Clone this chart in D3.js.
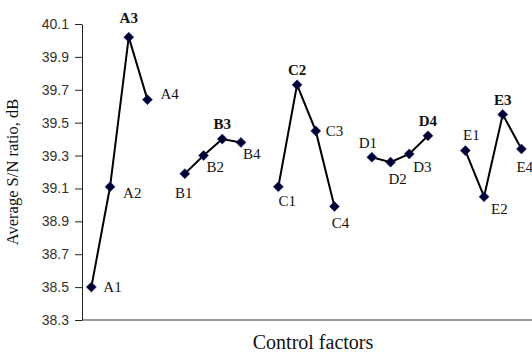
<!DOCTYPE html>
<html>
<head>
<meta charset="utf-8">
<script src="https://cdn.jsdelivr.net/npm/d3@7"></script>
<style>
  body { margin: 0; background: #fff; }
  svg { display: block; }
</style>
</head>
<body>
<svg width="532" height="354"></svg>
<script>
// data
const factors = ["A", "B", "C", "D", "E"];
const levels = ["1", "2", "3", "4"];
const snA = [38.50, 39.11, 40.02, 39.64];
const snB = [39.19, 39.30, 39.40, 39.38];
const snC = [39.11, 39.73, 39.45, 38.99];
const snD = [39.29, 39.26, 39.31, 39.42];
const snE = [39.33, 39.05, 39.55, 39.34];
const yTicks = [38.3, 38.5, 38.7, 38.9, 39.1, 39.3, 39.5, 39.7, 39.9, 40.1];

// where each point label sits: [dx, dy, anchor]
const labelPos = [
    [[12, 0, "start"], [13, 6, "start"], [0, -19, "middle"], [13, -6, "start"]],
    [[-1, 19, "middle"], [3, 11, "start"], [0, -15, "middle"], [2, 11, "start"]],
    [[9, 14, "middle"], [0, -15, "middle"], [10, 0, "start"], [6, 16, "middle"]],
    [[-4, -14, "middle"], [7, 17, "middle"], [4, 13, "start"], [0, -15, "middle"]],
    [[6, -16, "middle"], [7, 12, "start"], [0, -15, "middle"], [-5, 18, "start"]]
];

const series = [snA, snB, snC, snD, snE];

// categories along x, a blank slot after every factor
const slots = [];
factors.forEach(function (f) {
    levels.forEach(function (l) { slots.push(f + l); });
    slots.push(f + "_gap");
});

const svg = d3.select("svg");
const mLeft = 82, mTop = 24, mBottom = 320;

const x = d3.scaleBand()
    .domain(slots)
    .range([mLeft, mLeft + slots.length * 18.7]);
const y = d3.scaleLinear()
    .domain([38.3, 40.1])
    .range([mBottom, mTop]);

// y axis
const yAxis = svg.append("g")
    .attr("transform", "translate(" + mLeft + ",0)")
    .call(d3.axisLeft(y).tickValues(yTicks).tickFormat(d3.format(".1f")).tickSize(7).tickSizeOuter(0));
yAxis.select(".domain").attr("stroke", "#222");
yAxis.selectAll(".tick line").attr("stroke", "#222");
yAxis.selectAll(".tick text")
    .attr("x", -13)
    .attr("fill", "#333")
    .attr("font-family", "Liberation Sans, Arial, sans-serif")
    .attr("font-size", 14);

// x axis (line only)
svg.append("line")
    .attr("x1", mLeft).attr("x2", 532)
    .attr("y1", mBottom).attr("y2", mBottom)
    .attr("stroke", "#333")
    .attr("stroke-width", 1.2);

const line = d3.line()
    .x(function (d) { return x(d.key) + x.bandwidth() / 2; })
    .y(function (d) { return y(d.v); });

series.forEach(function (vals, i) {
    const pts = vals.map(function (v, j) {
        return {key: factors[i] + levels[j], v: v, j: j};
    });
    const best = d3.maxIndex(vals);
    const g = svg.append("g");

    g.append("path")
        .datum(pts)
        .attr("fill", "none")
        .attr("stroke", "#000")
        .attr("stroke-width", 2)
        .attr("d", line);

    g.selectAll("path.mark")
        .data(pts)
        .enter().append("path")
        .attr("class", "mark")
        .attr("d", d3.symbol(d3.symbolDiamond2, 64))
        .attr("transform", function (d) { return "translate(" + line.x()(d) + "," + line.y()(d) + ")"; })
        .attr("fill", "#000030")
        .attr("stroke", "#2a2a80")
        .attr("stroke-width", 0.6);

    g.selectAll("text")
        .data(pts)
        .enter().append("text")
        .attr("x", function (d) { return line.x()(d) + labelPos[i][d.j][0]; })
        .attr("y", function (d) { return line.y()(d) + labelPos[i][d.j][1]; })
        .attr("dy", "0.35em")
        .attr("text-anchor", function (d) { return labelPos[i][d.j][2]; })
        .attr("font-family", "Liberation Serif, Times New Roman, serif")
        .attr("font-size", 15)
        .attr("font-weight", function (d) { return d.j === best ? "bold" : "normal"; })
        .attr("fill", "#111")
        .text(function (d) { return d.key; });
});

// axis titles
svg.append("text")
    .attr("transform", "translate(18,172) rotate(-90)")
    .attr("text-anchor", "middle")
    .attr("font-family", "Liberation Serif, Times New Roman, serif")
    .attr("font-size", 16.5)
    .attr("fill", "#111")
    .text("Average S/N ratio, dB");

svg.append("text")
    .attr("x", 313)
    .attr("y", 349)
    .attr("text-anchor", "middle")
    .attr("font-family", "Liberation Serif, Times New Roman, serif")
    .attr("font-size", 20)
    .attr("fill", "#111")
    .text("Control factors");
</script>
</body>
</html>
